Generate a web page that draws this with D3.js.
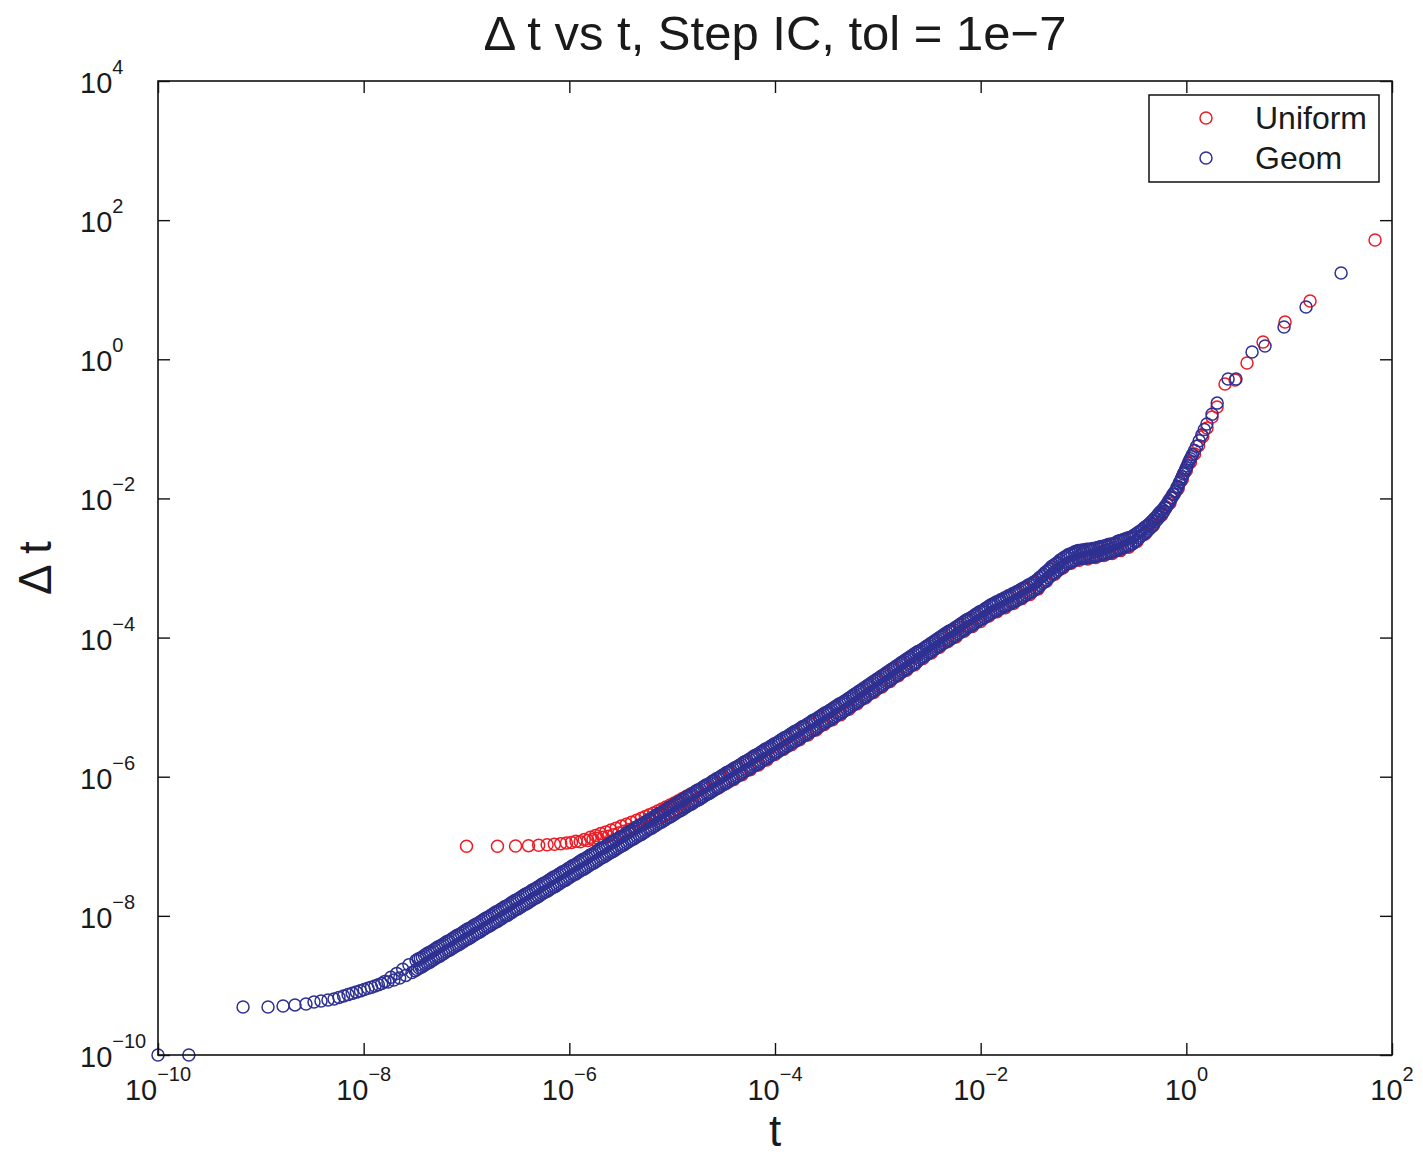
<!DOCTYPE html>
<html><head><meta charset="utf-8">
<script src="https://cdn.jsdelivr.net/npm/d3@7"></script>
<style>
body{margin:0;background:#fff}
text{font-family:"Liberation Sans",Arial,Helvetica,sans-serif;fill:#1a1a1a}
</style></head>
<body><svg id="chart" width="1423" height="1155"></svg>
<script>
// ---- data: [log10 t, log10 Δt] pairs ----
const titleText = "\u0394 t vs t, Step IC, tol = 1e\u22127";
const xLabelText = "t";
const yLabelText = "\u0394 t";
const seriesNames = ["Uniform", "Geom"];
const seriesColors = ["#ED1C24", "#2E3192"];
const xTickExponents = [-10, -8, -6, -4, -2, 0, 2];
const yTickExponents = [-10, -8, -6, -4, -2, 0, 2, 4];

const uniformLog10 = [
[-7,-7],[-6.699,-7],[-6.523,-6.996],[-6.397,-6.991],[-6.298,-6.985],[-6.216,-6.978],[-6.146,-6.97],[-6.084,-6.962],[-6.028,-6.953],[-5.979,-6.944],[-5.935,-6.929],[-5.894,-6.936],[-5.855,-6.901],
[-5.82,-6.918],[-5.795,-6.87],[-5.77,-6.903],[-5.745,-6.844],[-5.72,-6.886],[-5.695,-6.818],[-5.67,-6.871],[-5.645,-6.793],[-5.62,-6.855],[-5.595,-6.766],[-5.57,-6.834],[-5.545,-6.739],[-5.52,-6.809],[-5.495,-6.71],[-5.47,-6.784],[-5.445,-6.684],[-5.42,-6.759],[-5.395,-6.656],[-5.37,-6.733],[-5.345,-6.626],[-5.32,-6.704],
[-5.3,-6.597],[-5.28,-6.682],[-5.26,-6.573],[-5.24,-6.659],[-5.22,-6.548],[-5.2,-6.636],[-5.18,-6.522],[-5.16,-6.609],[-5.14,-6.494],[-5.12,-6.583],[-5.1,-6.465],[-5.08,-6.556],[-5.06,-6.436],[-5.04,-6.529],[-5.02,-6.407],[-5,-6.503],[-4.98,-6.377],[-4.96,-6.473],[-4.94,-6.346],[-4.92,-6.443],[-4.9,-6.314],[-4.88,-6.413],[-4.86,-6.282],[-4.84,-6.384],[-4.82,-6.25],[-4.8,-6.354],
[-4.76,-6.2],[-4.72,-6.29],[-4.68,-6.13],[-4.64,-6.23],[-4.6,-6.06],[-4.56,-6.17],[-4.52,-5.99],[-4.48,-6.1],[-4.44,-5.93],[-4.4,-6.04],[-4.36,-5.86],[-4.32,-5.97],[-4.28,-5.79],[-4.24,-5.9],[-4.2,-5.72],[-4.16,-5.83],[-4.12,-5.65],[-4.08,-5.76],[-4.04,-5.58],[-4,-5.68],
[-3.96,-5.51],[-3.92,-5.61],[-3.88,-5.44],[-3.84,-5.54],[-3.8,-5.37],[-3.76,-5.47],[-3.72,-5.29],[-3.68,-5.4],[-3.64,-5.22],[-3.6,-5.33],[-3.56,-5.15],[-3.52,-5.25],[-3.48,-5.08],[-3.44,-5.18],[-3.4,-5],[-3.36,-5.11],[-3.32,-4.93],[-3.28,-5.03],[-3.24,-4.85],[-3.2,-4.95],
[-3.16,-4.77],[-3.12,-4.87],[-3.08,-4.69],[-3.04,-4.79],[-3,-4.61],[-2.96,-4.71],[-2.92,-4.53],[-2.88,-4.63],[-2.84,-4.45],[-2.8,-4.55],[-2.76,-4.37],[-2.72,-4.47],[-2.68,-4.29],[-2.64,-4.39],[-2.6,-4.22],[-2.56,-4.3],[-2.52,-4.14],[-2.48,-4.22],[-2.44,-4.06],[-2.4,-4.14],
[-2.36,-3.98],[-2.32,-4.06],[-2.28,-3.91],[-2.24,-3.99],[-2.2,-3.83],[-2.16,-3.91],[-2.12,-3.75],[-2.08,-3.84],[-2.04,-3.68],[-2,-3.77],[-1.96,-3.61],[-1.92,-3.69],[-1.88,-3.54],[-1.84,-3.63],[-1.8,-3.48],[-1.76,-3.57],[-1.72,-3.42],[-1.68,-3.51],[-1.64,-3.36],[-1.6,-3.44],
[-1.56,-3.29],[-1.52,-3.38],[-1.48,-3.22],[-1.44,-3.3],[-1.4,-3.12],[-1.36,-3.19],[-1.32,-3.02],[-1.28,-3.09],[-1.24,-2.93],[-1.2,-3],[-1.16,-2.84],[-1.12,-2.93],[-1.08,-2.79],[-1.04,-2.89],[-1,-2.76],[-0.96,-2.87],[-0.92,-2.74],[-0.88,-2.85],[-0.84,-2.72],[-0.8,-2.82],
[-0.76,-2.69],[-0.72,-2.79],[-0.68,-2.65],[-0.64,-2.75],[-0.6,-2.6],[-0.56,-2.7],[-0.52,-2.57],[-0.48,-2.62],[-0.44,-2.48],[-0.4,-2.51],[-0.36,-2.38],[-0.32,-2.39],[-0.28,-2.26],[-0.24,-2.24],[-0.2,-2.12],[-0.16,-2.07],[-0.12,-1.94],[-0.08,-1.86],[-0.04,-1.73],[0,-1.6],
[0.04,-1.48],[0.08,-1.36],[0.12,-1.24],[0.16,-1.11],
[0.201,-0.988],[0.25,-0.83],[0.299,-0.686],[0.376,-0.355],[0.474,-0.298],[0.59,-0.053],[0.746,0.248],[0.96,0.536],[1.203,0.838],[1.835,1.715]
];

const geomLog10 = [
[-10,-10],[-9.7,-10],[-9.173,-9.31],[-8.93,-9.31],[-8.784,-9.296],[-8.668,-9.28],[-8.561,-9.267],[-8.483,-9.239],[-8.415,-9.225],[-8.347,-9.21],[-8.288,-9.196],
[-8.24,-9.172],[-8.195,-9.151],[-8.152,-9.132],[-8.111,-9.114],[-8.071,-9.096],[-8.032,-9.078],[-7.995,-9.058],[-7.959,-9.042],[-7.924,-9.026],[-7.89,-9.009],[-7.857,-8.99],[-7.825,-8.971],
[-7.794,-8.942],[-7.764,-8.951],[-7.735,-8.883],[-7.706,-8.923],[-7.678,-8.827],[-7.65,-8.892],[-7.62,-8.766],[-7.59,-8.856],[-7.56,-8.704],[-7.53,-8.815],
[-7.5,-8.79],[-7.49,-8.64],[-7.48,-8.77],[-7.47,-8.62],[-7.46,-8.75],[-7.45,-8.61],[-7.44,-8.74],[-7.43,-8.59],[-7.42,-8.72],[-7.41,-8.57],
[-7.4,-8.7],[-7.39,-8.55],[-7.38,-8.68],[-7.37,-8.53],[-7.36,-8.67],[-7.35,-8.52],[-7.34,-8.65],[-7.33,-8.5],[-7.32,-8.63],[-7.31,-8.48],
[-7.3,-8.61],[-7.29,-8.46],[-7.28,-8.59],[-7.27,-8.44],[-7.26,-8.58],[-7.25,-8.43],[-7.24,-8.56],[-7.23,-8.41],[-7.22,-8.54],[-7.21,-8.39],
[-7.2,-8.52],[-7.19,-8.37],[-7.18,-8.5],[-7.17,-8.36],[-7.16,-8.49],[-7.15,-8.34],[-7.14,-8.47],[-7.13,-8.32],[-7.12,-8.45],[-7.11,-8.3],
[-7.1,-8.43],[-7.09,-8.28],[-7.08,-8.42],[-7.07,-8.27],[-7.06,-8.4],[-7.05,-8.25],[-7.04,-8.38],[-7.03,-8.23],[-7.02,-8.36],[-7.01,-8.21],
[-7,-8.34],[-6.99,-8.19],[-6.98,-8.33],[-6.97,-8.18],[-6.96,-8.31],[-6.95,-8.16],[-6.94,-8.29],[-6.93,-8.14],[-6.92,-8.27],[-6.91,-8.12],
[-6.9,-8.25],[-6.89,-8.11],[-6.88,-8.24],[-6.87,-8.09],[-6.86,-8.22],[-6.85,-8.07],[-6.84,-8.2],[-6.83,-8.05],[-6.82,-8.18],[-6.81,-8.03],
[-6.8,-8.16],[-6.79,-8.02],[-6.78,-8.15],[-6.77,-8],[-6.76,-8.13],[-6.75,-7.98],[-6.74,-8.11],[-6.73,-7.96],[-6.72,-8.09],[-6.71,-7.94],
[-6.7,-8.08],[-6.69,-7.93],[-6.68,-8.06],[-6.67,-7.91],[-6.66,-8.04],[-6.65,-7.89],[-6.64,-8.02],[-6.63,-7.87],[-6.62,-8],[-6.61,-7.86],
[-6.6,-7.99],[-6.59,-7.84],[-6.58,-7.97],[-6.57,-7.82],[-6.56,-7.95],[-6.55,-7.8],[-6.54,-7.93],[-6.53,-7.78],[-6.52,-7.91],[-6.51,-7.77],
[-6.5,-7.9],[-6.49,-7.75],[-6.48,-7.88],[-6.47,-7.73],[-6.46,-7.86],[-6.45,-7.71],[-6.44,-7.84],[-6.43,-7.69],[-6.42,-7.83],[-6.41,-7.68],
[-6.4,-7.81],[-6.39,-7.66],[-6.38,-7.79],[-6.37,-7.64],[-6.36,-7.77],[-6.35,-7.62],[-6.34,-7.75],[-6.33,-7.61],[-6.32,-7.74],[-6.31,-7.59],
[-6.3,-7.72],[-6.29,-7.57],[-6.28,-7.7],[-6.27,-7.55],[-6.26,-7.68],[-6.25,-7.53],[-6.24,-7.66],[-6.23,-7.52],[-6.22,-7.65],[-6.21,-7.5],
[-6.2,-7.63],[-6.19,-7.48],[-6.18,-7.61],[-6.17,-7.46],[-6.16,-7.59],[-6.15,-7.44],[-6.14,-7.58],[-6.13,-7.43],[-6.12,-7.56],[-6.11,-7.41],
[-6.1,-7.54],[-6.09,-7.39],[-6.08,-7.52],[-6.07,-7.37],[-6.06,-7.5],[-6.05,-7.36],[-6.04,-7.49],[-6.03,-7.34],[-6.02,-7.47],[-6.01,-7.32],
[-6,-7.45],[-5.99,-7.3],[-5.98,-7.43],[-5.97,-7.28],[-5.96,-7.41],[-5.95,-7.27],[-5.94,-7.4],[-5.93,-7.25],[-5.92,-7.38],[-5.91,-7.23],
[-5.9,-7.36],[-5.89,-7.21],[-5.88,-7.34],[-5.87,-7.19],[-5.86,-7.33],[-5.85,-7.18],[-5.84,-7.31],[-5.83,-7.16],[-5.82,-7.29],[-5.81,-7.14],
[-5.8,-7.27],[-5.79,-7.12],[-5.78,-7.25],[-5.77,-7.11],[-5.76,-7.24],[-5.75,-7.09],[-5.74,-7.22],[-5.73,-7.07],[-5.72,-7.2],[-5.71,-7.05],
[-5.7,-7.18],[-5.69,-7.03],[-5.68,-7.16],[-5.67,-7.02],[-5.66,-7.15],[-5.65,-7],[-5.64,-7.13],[-5.63,-6.98],[-5.62,-7.11],[-5.61,-6.96],
[-5.6,-7.09],[-5.59,-6.94],[-5.58,-7.08],[-5.57,-6.93],[-5.56,-7.06],[-5.55,-6.91],[-5.54,-7.04],[-5.53,-6.89],[-5.52,-7.02],[-5.51,-6.87],
[-5.5,-7],[-5.49,-6.86],[-5.48,-6.99],[-5.47,-6.84],[-5.46,-6.97],[-5.45,-6.82],[-5.44,-6.95],[-5.43,-6.8],[-5.42,-6.93],[-5.41,-6.78],
[-5.4,-6.91],[-5.39,-6.77],[-5.38,-6.9],[-5.37,-6.75],[-5.36,-6.88],[-5.35,-6.73],[-5.34,-6.86],[-5.33,-6.71],[-5.32,-6.84],[-5.31,-6.69],
[-5.3,-6.83],[-5.29,-6.68],[-5.28,-6.81],[-5.27,-6.66],[-5.26,-6.79],[-5.25,-6.64],[-5.24,-6.77],[-5.23,-6.62],[-5.22,-6.75],[-5.21,-6.61],
[-5.2,-6.74],[-5.19,-6.59],[-5.18,-6.72],[-5.17,-6.57],[-5.16,-6.7],[-5.15,-6.55],[-5.14,-6.68],[-5.13,-6.53],[-5.12,-6.66],[-5.11,-6.52],
[-5.1,-6.65],[-5.09,-6.5],[-5.08,-6.63],[-5.07,-6.48],[-5.06,-6.61],[-5.05,-6.46],[-5.04,-6.59],[-5.03,-6.44],[-5.02,-6.58],[-5.01,-6.43],
[-5,-6.56],[-4.99,-6.41],[-4.98,-6.54],[-4.97,-6.39],[-4.96,-6.52],[-4.95,-6.37],[-4.94,-6.5],[-4.93,-6.36],[-4.92,-6.49],[-4.91,-6.34],
[-4.9,-6.47],[-4.89,-6.32],[-4.88,-6.45],[-4.87,-6.3],[-4.86,-6.43],[-4.85,-6.28],[-4.84,-6.41],[-4.83,-6.27],[-4.82,-6.4],[-4.81,-6.25],
[-4.8,-6.38],[-4.79,-6.23],[-4.78,-6.36],[-4.77,-6.21],[-4.76,-6.34],[-4.75,-6.19],[-4.74,-6.33],[-4.73,-6.18],[-4.72,-6.31],[-4.71,-6.16],
[-4.7,-6.29],[-4.69,-6.14],[-4.68,-6.27],[-4.67,-6.12],[-4.66,-6.25],[-4.65,-6.11],[-4.64,-6.24],[-4.63,-6.09],[-4.62,-6.22],[-4.61,-6.07],
[-4.6,-6.2],[-4.59,-6.05],[-4.58,-6.18],[-4.57,-6.03],[-4.56,-6.16],[-4.55,-6.02],[-4.54,-6.15],[-4.53,-6],[-4.52,-6.13],[-4.51,-5.98],
[-4.5,-6.11],[-4.49,-5.96],[-4.48,-6.09],[-4.47,-5.94],[-4.46,-6.08],[-4.45,-5.93],[-4.44,-6.06],[-4.43,-5.91],[-4.42,-6.04],[-4.41,-5.89],
[-4.4,-6.02],[-4.39,-5.87],[-4.38,-6],[-4.37,-5.86],[-4.36,-5.99],[-4.35,-5.84],[-4.34,-5.97],[-4.33,-5.82],[-4.32,-5.95],[-4.31,-5.8],
[-4.3,-5.93],[-4.29,-5.78],[-4.28,-5.91],[-4.27,-5.77],[-4.26,-5.9],[-4.25,-5.75],[-4.24,-5.88],[-4.23,-5.73],[-4.22,-5.86],[-4.21,-5.71],
[-4.2,-5.84],[-4.19,-5.69],[-4.18,-5.83],[-4.17,-5.68],[-4.16,-5.81],[-4.15,-5.66],[-4.14,-5.79],[-4.13,-5.64],[-4.12,-5.77],[-4.11,-5.62],
[-4.1,-5.75],[-4.09,-5.6],[-4.08,-5.74],[-4.07,-5.59],[-4.06,-5.72],[-4.05,-5.57],[-4.04,-5.7],[-4.03,-5.55],[-4.02,-5.68],[-4.01,-5.53],
[-4,-5.66],[-3.99,-5.52],[-3.98,-5.65],[-3.97,-5.5],[-3.96,-5.63],[-3.95,-5.48],[-3.94,-5.61],[-3.93,-5.46],[-3.92,-5.59],[-3.91,-5.44],
[-3.9,-5.58],[-3.89,-5.43],[-3.88,-5.56],[-3.87,-5.41],[-3.86,-5.54],[-3.85,-5.39],[-3.84,-5.52],[-3.83,-5.37],[-3.82,-5.5],[-3.81,-5.35],
[-3.8,-5.49],[-3.79,-5.34],[-3.78,-5.47],[-3.77,-5.32],[-3.76,-5.45],[-3.75,-5.3],[-3.74,-5.43],[-3.73,-5.28],[-3.72,-5.41],[-3.71,-5.27],
[-3.7,-5.4],[-3.69,-5.25],[-3.68,-5.38],[-3.67,-5.23],[-3.66,-5.36],[-3.65,-5.21],[-3.64,-5.34],[-3.63,-5.19],[-3.62,-5.33],[-3.61,-5.18],
[-3.6,-5.31],[-3.59,-5.16],[-3.58,-5.29],[-3.57,-5.14],[-3.56,-5.27],[-3.55,-5.12],[-3.54,-5.25],[-3.53,-5.1],[-3.52,-5.23],[-3.51,-5.08],
[-3.5,-5.21],[-3.49,-5.07],[-3.48,-5.2],[-3.47,-5.05],[-3.46,-5.18],[-3.45,-5.03],[-3.44,-5.16],[-3.43,-5.01],[-3.42,-5.14],[-3.41,-4.99],
[-3.4,-5.12],[-3.39,-4.97],[-3.38,-5.1],[-3.37,-4.95],[-3.36,-5.09],[-3.35,-4.94],[-3.34,-5.07],[-3.33,-4.92],[-3.32,-5.05],[-3.31,-4.9],
[-3.3,-5.03],[-3.29,-4.88],[-3.28,-5.01],[-3.27,-4.86],[-3.26,-4.99],[-3.25,-4.84],[-3.24,-4.97],[-3.23,-4.82],[-3.22,-4.95],[-3.21,-4.8],
[-3.2,-4.93],[-3.19,-4.78],[-3.18,-4.91],[-3.17,-4.76],[-3.16,-4.89],[-3.15,-4.74],[-3.14,-4.87],[-3.13,-4.72],[-3.12,-4.85],[-3.11,-4.7],
[-3.1,-4.83],[-3.09,-4.68],[-3.08,-4.81],[-3.07,-4.66],[-3.06,-4.79],[-3.05,-4.64],[-3.04,-4.77],[-3.03,-4.62],[-3.02,-4.75],[-3.01,-4.6],
[-3,-4.73],[-2.99,-4.58],[-2.98,-4.71],[-2.97,-4.56],[-2.96,-4.69],[-2.95,-4.54],[-2.94,-4.67],[-2.93,-4.52],[-2.92,-4.65],[-2.91,-4.5],
[-2.9,-4.63],[-2.89,-4.48],[-2.88,-4.61],[-2.87,-4.46],[-2.86,-4.59],[-2.85,-4.44],[-2.84,-4.57],[-2.83,-4.42],[-2.82,-4.55],[-2.81,-4.4],
[-2.8,-4.53],[-2.79,-4.38],[-2.78,-4.51],[-2.77,-4.36],[-2.76,-4.49],[-2.75,-4.34],[-2.74,-4.47],[-2.73,-4.32],[-2.72,-4.45],[-2.71,-4.3],
[-2.7,-4.43],[-2.69,-4.28],[-2.68,-4.41],[-2.67,-4.26],[-2.66,-4.39],[-2.65,-4.24],[-2.64,-4.37],[-2.63,-4.22],[-2.62,-4.35],[-2.61,-4.2],
[-2.6,-4.32],[-2.59,-4.19],[-2.58,-4.3],[-2.57,-4.17],[-2.56,-4.28],[-2.55,-4.15],[-2.54,-4.26],[-2.53,-4.13],[-2.52,-4.24],[-2.51,-4.11],
[-2.5,-4.22],[-2.49,-4.09],[-2.48,-4.2],[-2.47,-4.07],[-2.46,-4.18],[-2.45,-4.05],[-2.44,-4.16],[-2.43,-4.03],[-2.42,-4.14],[-2.41,-4.01],
[-2.4,-4.12],[-2.39,-3.99],[-2.38,-4.1],[-2.37,-3.97],[-2.36,-4.08],[-2.35,-3.95],[-2.34,-4.06],[-2.33,-3.93],[-2.32,-4.04],[-2.31,-3.91],
[-2.3,-4.03],[-2.29,-3.9],[-2.28,-4.01],[-2.27,-3.88],[-2.26,-3.99],[-2.25,-3.86],[-2.24,-3.97],[-2.23,-3.84],[-2.22,-3.95],[-2.21,-3.82],
[-2.2,-3.93],[-2.19,-3.8],[-2.18,-3.91],[-2.17,-3.78],[-2.16,-3.89],[-2.15,-3.76],[-2.14,-3.87],[-2.13,-3.74],[-2.12,-3.85],[-2.11,-3.73],
[-2.1,-3.84],[-2.09,-3.71],[-2.08,-3.82],[-2.07,-3.69],[-2.06,-3.8],[-2.05,-3.67],[-2.04,-3.78],[-2.03,-3.65],[-2.02,-3.76],[-2.01,-3.63],
[-2,-3.74],[-1.99,-3.62],[-1.98,-3.73],[-1.97,-3.6],[-1.96,-3.71],[-1.95,-3.58],[-1.94,-3.69],[-1.93,-3.56],[-1.92,-3.67],[-1.91,-3.54],
[-1.9,-3.65],[-1.89,-3.52],[-1.88,-3.64],[-1.87,-3.51],[-1.86,-3.62],[-1.85,-3.49],[-1.84,-3.61],[-1.83,-3.48],[-1.82,-3.59],[-1.81,-3.46],
[-1.8,-3.58],[-1.79,-3.45],[-1.78,-3.56],[-1.77,-3.43],[-1.76,-3.55],[-1.75,-3.42],[-1.74,-3.53],[-1.73,-3.4],[-1.72,-3.52],[-1.71,-3.39],
[-1.7,-3.5],[-1.69,-3.37],[-1.68,-3.49],[-1.67,-3.36],[-1.66,-3.47],[-1.65,-3.34],[-1.64,-3.46],[-1.63,-3.33],[-1.62,-3.44],[-1.61,-3.31],
[-1.6,-3.42],[-1.59,-3.29],[-1.58,-3.41],[-1.57,-3.28],[-1.56,-3.39],[-1.55,-3.26],[-1.54,-3.37],[-1.53,-3.24],[-1.52,-3.36],[-1.51,-3.23],
[-1.5,-3.34],[-1.49,-3.21],[-1.48,-3.32],[-1.47,-3.19],[-1.46,-3.3],[-1.45,-3.17],[-1.44,-3.28],[-1.43,-3.14],[-1.42,-3.25],[-1.41,-3.12],
[-1.4,-3.22],[-1.39,-3.09],[-1.38,-3.2],[-1.37,-3.06],[-1.36,-3.17],[-1.35,-3.04],[-1.34,-3.14],[-1.33,-3.01],[-1.32,-3.12],[-1.31,-2.98],
[-1.3,-3.09],[-1.29,-2.96],[-1.28,-3.07],[-1.27,-2.94],[-1.26,-3.05],[-1.25,-2.92],[-1.24,-3.03],[-1.23,-2.89],[-1.22,-3],[-1.21,-2.87],
[-1.2,-2.98],[-1.19,-2.85],[-1.18,-2.96],[-1.17,-2.83],[-1.16,-2.94],[-1.15,-2.81],[-1.14,-2.93],[-1.13,-2.8],[-1.12,-2.91],[-1.11,-2.79],
[-1.1,-2.9],[-1.09,-2.77],[-1.08,-2.89],[-1.07,-2.76],[-1.06,-2.87],[-1.05,-2.75],[-1.04,-2.87],[-1.03,-2.75],[-1.02,-2.86],[-1.01,-2.74],
[-1,-2.86],[-0.99,-2.74],[-0.98,-2.86],[-0.97,-2.73],[-0.96,-2.85],[-0.95,-2.73],[-0.94,-2.85],[-0.93,-2.73],[-0.92,-2.84],[-0.91,-2.72],
[-0.9,-2.84],[-0.89,-2.72],[-0.88,-2.83],[-0.87,-2.71],[-0.86,-2.82],[-0.85,-2.7],[-0.84,-2.82],[-0.83,-2.69],[-0.82,-2.81],[-0.81,-2.69],
[-0.8,-2.8],[-0.79,-2.68],[-0.78,-2.8],[-0.77,-2.67],[-0.76,-2.79],[-0.75,-2.66],[-0.74,-2.78],[-0.73,-2.66],[-0.72,-2.77],[-0.71,-2.65],
[-0.7,-2.76],[-0.69,-2.64],[-0.68,-2.75],[-0.67,-2.62],[-0.66,-2.74],[-0.65,-2.61],[-0.64,-2.73],[-0.63,-2.6],[-0.62,-2.71],[-0.61,-2.59],
[-0.6,-2.7],[-0.59,-2.58],[-0.58,-2.69],[-0.57,-2.57],[-0.56,-2.68],[-0.55,-2.56],[-0.54,-2.66],[-0.53,-2.55],[-0.52,-2.65],[-0.51,-2.53],
[-0.5,-2.62],[-0.49,-2.51],[-0.48,-2.6],[-0.47,-2.49],[-0.46,-2.57],[-0.45,-2.47],[-0.44,-2.54],[-0.43,-2.45],[-0.42,-2.52],[-0.41,-2.42],
[-0.4,-2.49],[-0.39,-2.4],[-0.38,-2.47],[-0.37,-2.38],[-0.36,-2.44],[-0.35,-2.35],[-0.34,-2.41],[-0.33,-2.32],[-0.32,-2.37],[-0.31,-2.29],
[-0.3,-2.33],[-0.29,-2.26],[-0.28,-2.3],[-0.27,-2.22],[-0.26,-2.26],[-0.25,-2.19],[-0.24,-2.22],[-0.23,-2.16],[-0.22,-2.19],[-0.21,-2.12],
[-0.2,-2.14],[-0.19,-2.08],[-0.18,-2.09],[-0.17,-2.03],[-0.16,-2.04],[-0.15,-1.99],[-0.14,-1.99],[-0.13,-1.94],[-0.12,-1.94],[-0.11,-1.9],
[-0.1,-1.89],[-0.09,-1.84],[-0.08,-1.83],[-0.07,-1.78],[-0.06,-1.76],[-0.05,-1.72],[-0.04,-1.69],[-0.03,-1.65],[-0.02,-1.63],[-0.01,-1.59],
[0,-1.56],[0.01,-1.53],[0.02,-1.49],[0.03,-1.46],[0.04,-1.43],[0.05,-1.4],[0.06,-1.37],[0.08,-1.31],[0.1,-1.25],[0.125,-1.17],[0.15,-1.09],[0.175,-1.01],[0.2,-0.93],[0.25,-0.79],[0.3,-0.63],
[0.406,-0.283],[0.483,-0.283],[0.639,0.105],[0.765,0.191],[0.95,0.464],[1.164,0.751],[1.505,1.24]
];

// ---- drawing ----
const W = 1423, H = 1155;
const plot = {left: 158, right: 1392, top: 81, bottom: 1055};
const svg = d3.select("#chart");
svg.append("rect").attr("width", W).attr("height", H).attr("fill", "#fff");

const x = d3.scaleLog().domain([1e-10, 1e2]).range([plot.left, plot.right]);
const y = d3.scaleLog().domain([1e-10, 1e4]).range([plot.bottom, plot.top]);

const toPoint = d => ({t: Math.pow(10, d[0]), dt: Math.pow(10, d[1])});
const series = [
  {name: seriesNames[0], color: seriesColors[0], pts: uniformLog10.map(toPoint)},
  {name: seriesNames[1], color: seriesColors[1], pts: geomLog10.map(toPoint)}
];

// markers: Uniform first, Geom drawn on top
const markerR = 6, markerW = 1.5;
series.forEach(s => {
  svg.append("g").selectAll("circle").data(s.pts).join("circle")
    .attr("cx", d => x(d.t)).attr("cy", d => y(d.dt)).attr("r", markerR)
    .attr("fill", "none").attr("stroke", s.color).attr("stroke-width", markerW);
});

// axes: inward ticks on all four sides
const tickLen = 12;
const xTicks = xTickExponents.map(e => Math.pow(10, e));
const yTicks = yTickExponents.map(e => Math.pow(10, e));
function styleAxis(g){
  g.selectAll(".domain").remove();
  g.selectAll(".tick line").attr("stroke", "#111").attr("stroke-width", 1.4);
  g.selectAll(".tick text").remove();
}
svg.append("g").attr("transform", `translate(0,${plot.bottom})`)
  .call(d3.axisBottom(x).tickValues(xTicks).tickSize(-tickLen)).call(styleAxis);
svg.append("g").attr("transform", `translate(0,${plot.top})`)
  .call(d3.axisTop(x).tickValues(xTicks).tickSize(-tickLen)).call(styleAxis);
svg.append("g").attr("transform", `translate(${plot.left},0)`)
  .call(d3.axisLeft(y).tickValues(yTicks).tickSize(-tickLen)).call(styleAxis);
svg.append("g").attr("transform", `translate(${plot.right},0)`)
  .call(d3.axisRight(y).tickValues(yTicks).tickSize(-tickLen)).call(styleAxis);

svg.append("rect")
  .attr("x", plot.left).attr("y", plot.top)
  .attr("width", plot.right - plot.left).attr("height", plot.bottom - plot.top)
  .attr("fill", "none").attr("stroke", "#111").attr("stroke-width", 1.6);

// tick labels 10^n
const fmtExp = e => (e < 0 ? "\u2212" + Math.abs(e) : String(e));
function powerLabel(sel, e){
  sel.append("tspan").attr("font-size", 29).text("10");
  sel.append("tspan").attr("font-size", 20).attr("dy", -19).text(fmtExp(e));
}
xTickExponents.forEach(e => {
  svg.append("text").attr("x", x(Math.pow(10, e))).attr("y", 1100)
    .attr("text-anchor", "middle").call(powerLabel, e);
});
yTickExponents.forEach(e => {
  svg.append("text").attr("x", 80).attr("y", y(Math.pow(10, e)) + 12)
    .attr("text-anchor", "start").call(powerLabel, e);
});

// title and axis labels
svg.append("text").attr("x", (plot.left + plot.right) / 2).attr("y", 50)
  .attr("text-anchor", "middle").attr("font-size", 49).text(titleText);
svg.append("text").attr("x", (plot.left + plot.right) / 2).attr("y", 1146)
  .attr("text-anchor", "middle").attr("font-size", 44).text(xLabelText);
svg.append("text").attr("transform", `translate(51,${(plot.top + plot.bottom) / 2}) rotate(-90)`)
  .attr("text-anchor", "middle").attr("font-size", 46).text(yLabelText);

// legend
const lg = svg.append("g");
lg.append("rect").attr("x", 1149).attr("y", 95).attr("width", 230).attr("height", 87)
  .attr("fill", "#fff").attr("stroke", "#111").attr("stroke-width", 1.5);
series.forEach((s, i) => {
  const cy = 118 + i * 40;
  lg.append("circle").attr("cx", 1206).attr("cy", cy).attr("r", markerR)
    .attr("fill", "none").attr("stroke", s.color).attr("stroke-width", markerW);
  lg.append("text").attr("x", 1255).attr("y", cy + 11).attr("font-size", 32).text(s.name);
});
</script>
</body></html>
